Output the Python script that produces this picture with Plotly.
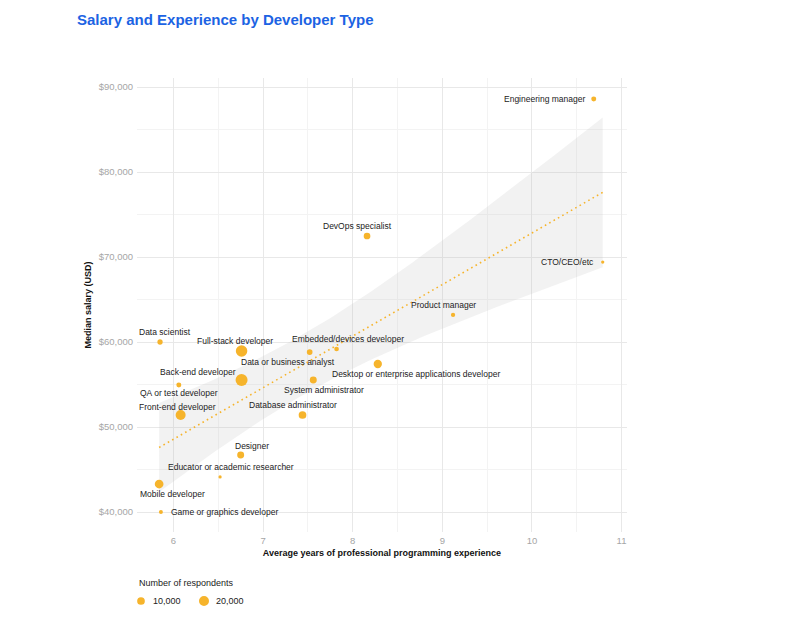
import numpy as np
import plotly.graph_objects as go

# ---------------- data ----------------
dev_types = [
    "Engineering manager", "CTO/CEO/etc", "DevOps specialist", "Product manager",
    "Data scientist", "Full-stack developer", "Data or business analyst",
    "Embedded/devices developer", "Desktop or enterprise applications developer",
    "Back-end developer", "QA or test developer", "System administrator",
    "Front-end developer", "Database administrator", "Designer",
    "Educator or academic researcher", "Mobile developer", "Game or graphics developer",
]
avg_experience = [10.69, 10.79, 8.16, 9.12, 5.85, 6.76, 7.52, 7.82, 8.28,
                  6.76, 6.06, 7.56, 6.08, 7.44, 6.75, 6.52, 5.84, 5.86]
median_salary = [88590, 69410, 72470, 63180, 60000, 58940, 58820, 59180, 57410,
                 55530, 54940, 55530, 51410, 51410, 46710, 44120, 43290, 40000]
respondents = [2600, 400, 6700, 1500, 3200, 28300, 4100, 2100, 12300,
               31400, 2600, 7600, 20000, 10000, 7600, 400, 13900, 1100]
x_ticks = [6, 7, 8, 9, 10, 11]
y_ticks = [40000, 50000, 60000, 70000, 80000, 90000]
legend_sizes = [10000, 20000]
legend_labels = ["10,000", "20,000"]

# ---------------- styles ----------------
DOT = "#F6B42C"
FONT = "Liberation Sans, Arial, Helvetica, sans-serif"
ML, MR, MT, MB = 137, 173, 78, 86
PW, PH = 800 - ML - MR, 618 - MT - MB

# label placement: (xanchor, xshift px, yshift px)
label_pos = {
    "Engineering manager": ("right", -7, 0),
    "CTO/CEO/etc": ("right", -7, 0),
    "DevOps specialist": ("center", -10, 10),
    "Product manager": ("center", -10, 10),
    "Data scientist": ("center", 5, 10),
    "Full-stack developer": ("center", -7, 10),
    "Data or business analyst": ("center", -22, -10),
    "Embedded/devices developer": ("center", 11, 10),
    "Desktop or enterprise applications developer": ("center", 38, -10),
    "Back-end developer": ("center", -44, 8),
    "QA or test developer": ("center", 0, -8),
    "System administrator": ("center", 11, -10),
    "Front-end developer": ("center", -3, 8),
    "Database administrator": ("center", -10, 10),
    "Designer": ("center", 11, 9),
    "Educator or academic researcher": ("center", 11, 10),
    "Mobile developer": ("center", 13, -10),
    "Game or graphics developer": ("left", 8, 0),
}


def dot_size(n):
    n = np.asarray(n, dtype=float)
    return 2.14 + 0.0556 * np.sqrt(n)


def px_to_paper(px, py):
    return (px - ML) / PW, (618 - MB - py) / PH


# ---------------- linear fit with 95% CI (like geom_smooth(method="lm")) ----------------
x = np.array(avg_experience)
y = np.array(median_salary)
nobs = len(x)
slope, intercept = np.polyfit(x, y, 1)
resid = y - (intercept + slope * x)
s = np.sqrt(np.sum(resid ** 2) / (nobs - 2))
sxx = np.sum((x - x.mean()) ** 2)
t_crit = 2.119905  # t(0.975, df=16)
xs = np.linspace(x.min(), x.max(), 80)
fit = intercept + slope * xs
se = s * np.sqrt(1.0 / nobs + (xs - x.mean()) ** 2 / sxx)
upper = fit + t_crit * se
lower = fit - t_crit * se

fig = go.Figure()

fig.add_trace(go.Scatter(
    x=np.concatenate([xs, xs[::-1]]), y=np.concatenate([upper, lower[::-1]]),
    fill="toself", fillcolor="rgba(190,190,190,0.2)", line=dict(width=0),
    mode="lines", hoverinfo="skip", showlegend=False,
))
fig.add_trace(go.Scatter(
    x=xs, y=fit, mode="lines", line=dict(color=DOT, width=1.6, dash="1.6px,3.4px"),
    hoverinfo="skip", showlegend=False,
))
fig.add_trace(go.Scatter(
    x=avg_experience, y=median_salary, mode="markers", text=dev_types,
    marker=dict(color=DOT, size=dot_size(respondents), line=dict(width=0), opacity=1),
    showlegend=False,
))

for name, xv, yv in zip(dev_types, avg_experience, median_salary):
    anchor, dx, dy = label_pos[name]
    fig.add_annotation(
        x=xv, y=yv, text=name, showarrow=False, xanchor=anchor, yanchor="middle",
        xshift=dx, yshift=dy, font=dict(family=FONT, size=8.5, color="#222222"),
    )

# ---------------- size legend (drawn manually) ----------------
tx, ty = px_to_paper(137, 583)
fig.add_annotation(x=tx, y=ty, xref="paper", yref="paper", text="Number of respondents",
                   showarrow=False, xanchor="left", yanchor="middle",
                   font=dict(family=FONT, size=9, color="#222222"))
for n, lab, dpx in zip(legend_sizes, legend_labels, [141, 204]):
    r = float(dot_size(n)) / 2
    cx, cy = px_to_paper(dpx, 601)
    fig.add_shape(type="circle", xref="paper", yref="paper", xsizemode="pixel",
                  ysizemode="pixel", xanchor=cx, yanchor=cy, x0=-r, x1=r, y0=-r, y1=r,
                  fillcolor=DOT, line=dict(width=0))
    lx, ly = px_to_paper(dpx + 10, 601)
    fig.add_annotation(x=lx, y=ly, xref="paper", yref="paper", text=lab,
                       showarrow=False, xanchor="left", yanchor="middle",
                       font=dict(family=FONT, size=9, color="#222222"))

fig.update_layout(
    width=800, height=618,
    paper_bgcolor="white", plot_bgcolor="white",
    margin=dict(l=ML, r=MR, t=MT, b=MB),
    font=dict(family=FONT),
    showlegend=False,
    title=dict(text="<b>Salary and Experience by Developer Type</b>",
               x=77 / 800, xanchor="left", y=1 - 20 / 618, yanchor="middle",
               font=dict(family=FONT, size=15, color="#1C63E3")),
    xaxis=dict(
        range=[5.593, 11.061], tickmode="array", tickvals=x_ticks,
        ticktext=[str(v) for v in x_ticks],
        showgrid=True, gridcolor="#E8E8E8", gridwidth=1, zeroline=False,
        showline=False, ticks="", tickfont=dict(size=9.5, color="#A6A6A6"),
        ticklabelstandoff=1,
        minor=dict(dtick=0.5, showgrid=True, gridcolor="#F3F3F3", gridwidth=1),
        title=dict(text="<b>Average years of professional programming experience</b>",
                   font=dict(size=9, color="#111111"), standoff=5),
    ),
    yaxis=dict(
        range=[37647, 91059], tickmode="array", tickvals=y_ticks,
        ticktext=[f"${v:,}" for v in y_ticks],
        showgrid=True, gridcolor="#E8E8E8", gridwidth=1, zeroline=False,
        showline=False, ticks="", tickfont=dict(size=9.5, color="#A6A6A6"),
        ticklabelstandoff=3,
        minor=dict(dtick=5000, showgrid=True, gridcolor="#F3F3F3", gridwidth=1),
        title=dict(text="<b>Median salary (USD)</b>",
                   font=dict(size=9, color="#111111"), standoff=5),
    ),
)

fig.write_html("out.html", config={"displayModeBar": False},
               post_script="document.body.style.margin='0';")
